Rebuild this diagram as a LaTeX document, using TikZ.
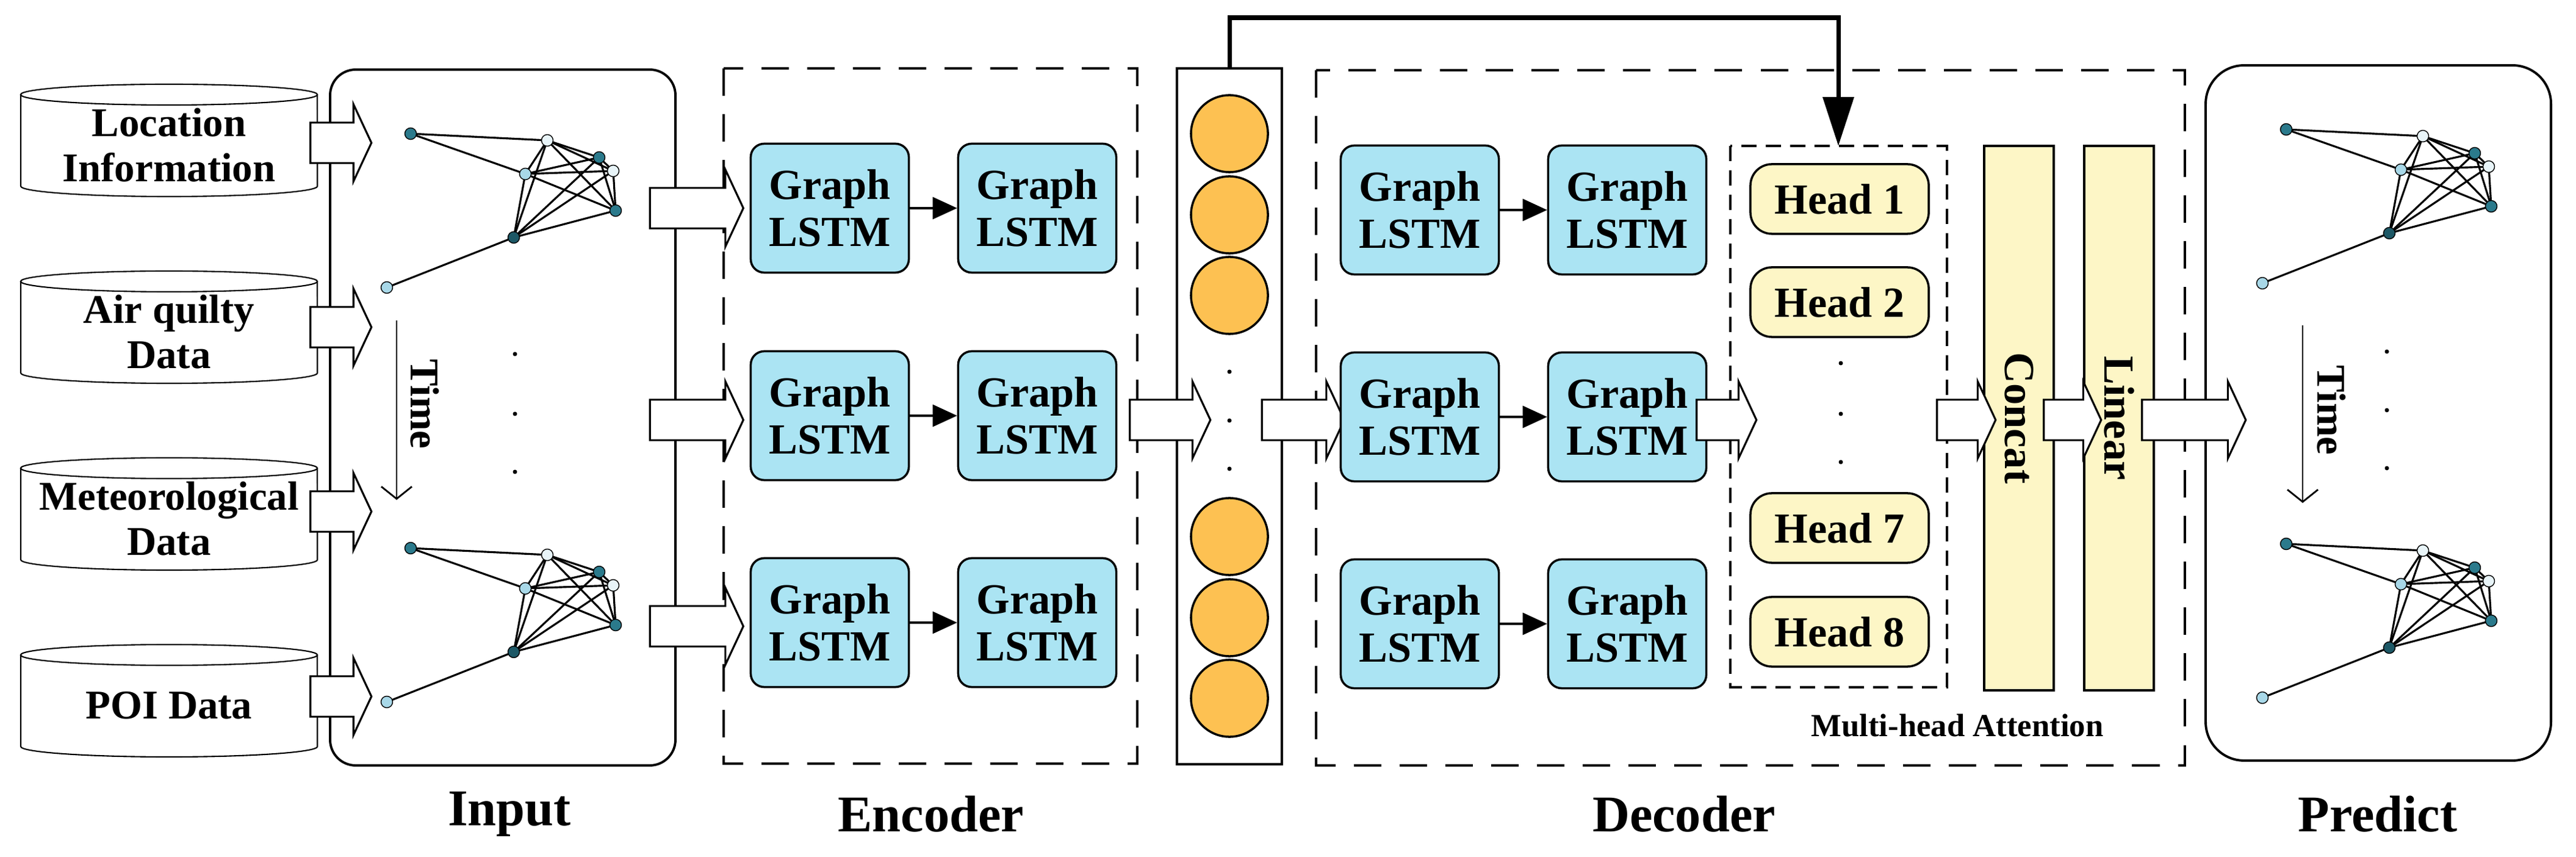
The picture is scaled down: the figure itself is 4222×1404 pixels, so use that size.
\documentclass[tikz,border=0pt]{standalone}
\usepackage{fontspec}
\setmainfont{Liberation Serif}
\usetikzlibrary{shapes.arrows,arrows.meta}
\definecolor{lstmblue}{HTML}{ABE4F3}
\definecolor{headyellow}{HTML}{FDF6C6}
\definecolor{vecorange}{HTML}{FDC152}
\definecolor{tealdark}{HTML}{1D5866}
\definecolor{tealmid}{HTML}{2B7A8C}
\definecolor{teallight}{HTML}{A8D8E8}
\definecolor{tealwhite}{HTML}{E8F4F8}
\tikzset{
	lstm/.style={rectangle, rounded corners=0.22cm, draw=black, line width=1pt, fill=lstmblue, minimum width=2.59cm, minimum height=2.11cm, align=center, font=\bfseries\fontsize{20}{22}\selectfont},
	head/.style={rectangle, rounded corners=0.35cm, draw=black, line width=1pt, fill=headyellow, minimum width=2.92cm, minimum height=1.14cm, font=\bfseries\fontsize{20}{22}\selectfont},
	bar/.style={rectangle, draw=black, line width=1pt, fill=headyellow, minimum width=1.14cm, minimum height=8.91cm},
	bartext/.style={rotate=-90, font=\bfseries\fontsize{20}{22}\selectfont},
	harrow/.style={single arrow, draw=black, line width=0.9pt, fill=white, inner xsep=0pt, inner ysep=0.315cm, single arrow head extend=0.3cm, single arrow tip angle=130},
	vec/.style={circle, draw=black, line width=1pt, fill=vecorange, minimum size=1.26cm},
	gn/.style={circle, draw=black, line width=0.4pt, minimum size=0.19cm, inner sep=0pt},
	dashbox/.style={draw=black, line width=1pt, dash pattern=on 0.45cm off 0.3cm},
	title/.style={font=\bfseries\fontsize{24}{27}\selectfont},
	dbtext/.style={align=center, font=\bfseries\fontsize{19}{21}\selectfont},
	dot/.style={circle, fill=black, minimum size=0.07cm, inner sep=0pt}
}
\begin{document}
\begin{tikzpicture}[x=0.01cm, y=-0.01cm]
	\useasboundingbox (0,0) rectangle (4222,1404);

	% frames
	\draw[line width=1.1pt, rounded corners=0.42cm] (541,114) rectangle (1107,1254);
	\draw[line width=1.1pt, rounded corners=0.63cm] (3615,107) rectangle (4181,1246);
	\draw[dashbox] (1186,112) rectangle (1864,1251);
	\draw[dashbox] (2157,115) rectangle (3581,1254);
	\draw[line width=1pt, dash pattern=on 0.25cm off 0.15cm] (2836,239) rectangle (3191,1126);
	\node[draw=black, line width=1pt, minimum width=1.72cm, minimum height=11.39cm] (column) at (2015,682) {};

	% data sources
	\foreach \cy/\txt [count=\i] in {230/{Location\\Information}, 536/{Air quilty\\Data}, 842/{Meteorological\\Data}, 1148/{POI Data}} {
		\draw[fill=white, line width=0.6pt] (34,\cy-75) -- (34,\cy+75) arc[start angle=180, end angle=360, x radius=2.43cm, y radius=0.17cm] -- (520,\cy-75);
		\draw[fill=white, line width=0.6pt] (277,\cy-75) ellipse [x radius=2.43cm, y radius=0.17cm];
		\node[dbtext] (db\i) at (277,\cy+8) {\txt};
	}
	\foreach \cy [count=\i] in {234, 536, 838, 1141}
		\node[harrow, minimum height=1cm] (in\i) at (551,\cy) {};

	% graphs
	\foreach \gx/\gy/\g in {673/219/ga, 673/898/gb, 3747/212/gc, 3747/891/gd} {
		\coordinate (\g-A) at (\gx,\gy);
		\coordinate (\g-B) at (\gx+224,\gy+11);
		\coordinate (\g-C) at (\gx+188,\gy+66);
		\coordinate (\g-D) at (\gx+309,\gy+39);
		\coordinate (\g-E) at (\gx+332,\gy+61);
		\coordinate (\g-F) at (\gx+336,\gy+126);
		\coordinate (\g-G) at (\gx+169,\gy+170);
		\coordinate (\g-H) at (\gx-39,\gy+252);
		\foreach \p/\q in {A/B, A/C, H/G, B/C, B/D, B/E, B/F, B/G, C/D, C/E, C/F, C/G, D/E, D/F, D/G, E/F, E/G, F/G}
			\draw[line width=0.9pt] (\g-\p) -- (\g-\q);
		\node[gn, fill=tealmid] (\g-a) at (\g-A) {};
		\node[gn, fill=tealwhite] (\g-b) at (\g-B) {};
		\node[gn, fill=teallight] (\g-c) at (\g-C) {};
		\node[gn, fill=tealmid] (\g-d) at (\g-D) {};
		\node[gn, fill=tealwhite] (\g-e) at (\g-E) {};
		\node[gn, fill=tealmid] (\g-f) at (\g-F) {};
		\node[gn, fill=tealdark] (\g-g) at (\g-G) {};
		\node[gn, fill=teallight] (\g-h) at (\g-H) {};
	}

	% time
	\coordinate (t1) at (650,525);
	\coordinate (t2) at (650,819);
	\draw[-{Straight Barb[length=0.2cm, width=0.5cm]}, line width=0.8pt] (t1) -- (t2);
	\node[dbtext, rotate=-90] (time1) at (696,662) {Time};
	\coordinate (t3) at (3774,533);
	\coordinate (t4) at (3774,824);
	\draw[-{Straight Barb[length=0.2cm, width=0.5cm]}, line width=0.8pt] (t3) -- (t4);
	\node[dbtext, rotate=-90] (time2) at (3821,672) {Time};
	\foreach \yy in {580, 678, 773} \node[dot] at (844,\yy) {};
	\foreach \yy in {576, 672, 767} \node[dot] at (3912,\yy) {};

	% encoder
	\foreach \yy [count=\i] in {341, 681, 1020} {
		\node[lstm] (e\i a) at (1360,\yy) {Graph\\LSTM};
		\node[lstm] (e\i b) at (1700,\yy) {Graph\\LSTM};
		\draw[-{Triangle[length=0.4cm, width=0.36cm]}, line width=0.9pt] (e\i a) -- (e\i b);
	}
	\foreach \yy [count=\i] in {341, 688, 1026}
		\node[harrow, minimum height=1.53cm] (ie\i) at (1134,\yy) {};

	% vector
	\foreach \yy [count=\i] in {219, 352, 484, 879, 1012, 1144}
		\node[vec] (v\i) at (2015,\yy) {};
	\foreach \yy in {609, 689, 768} \node[dot] at (2015,\yy) {};
	\node[harrow, minimum height=1.32cm] (ev) at (1910,688) {};
	\node[harrow, minimum height=1.35cm] (vd) at (2128,688) {};

	% decoder
	\foreach \yy [count=\i] in {344, 683, 1022} {
		\node[lstm] (d\i a) at (2327,\yy) {Graph\\LSTM};
		\node[lstm] (d\i b) at (2667,\yy) {Graph\\LSTM};
		\draw[-{Triangle[length=0.4cm, width=0.36cm]}, line width=0.9pt] (d\i a) -- (d\i b);
	}
	\foreach \yy/\k in {326/1, 495/2, 865/7, 1035/8}
		\node[head] (h\k) at (3015,\yy) {Head \k};
	\foreach \yy in {595, 678, 757} \node[dot] at (3017,\yy) {};
	\node[bar] (concat) at (3309,685) {};
	\node[bartext] at (concat) {Concat};
	\node[bar] (linear) at (3473,685) {};
	\node[bartext] at (linear) {Linear};
	\node[harrow, minimum height=0.98cm] (dh) at (2822,688) {};
	\node[harrow, minimum height=0.96cm] (hc) at (3215,688) {};
	\node[harrow, minimum height=0.94cm] (cl) at (3389,688) {};
	\node[harrow, minimum height=1.7cm] (lp) at (3588,688) {};
	\node[font=\bfseries\fontsize{15}{17}\selectfont] (mha) at (3208,1189) {Multi-head Attention};

	% skip
	\coordinate (k2) at (3013,29);
	\coordinate (k3) at (3013,239);
	\draw[line width=2pt, -{Triangle[length=0.8cm, width=0.5cm]}] (column.north) |- (k2) -- (k3);

	% titles
	\node[title] (tin) at (835,1334) {Input};
	\node[title] (tenc) at (1526,1334) {Encoder};
	\node[title] (tdec) at (2760,1334) {Decoder};
	\node[title] (tpre) at (3897,1334) {Predict};
\end{tikzpicture}
\end{document}
